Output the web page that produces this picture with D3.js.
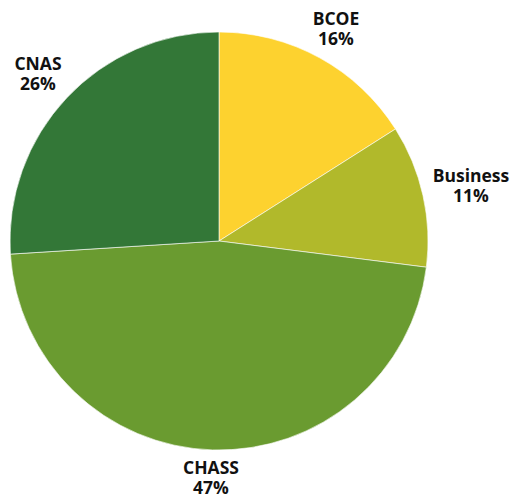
<!DOCTYPE html>
<html><head><meta charset="utf-8">
<script src="https://cdn.jsdelivr.net/npm/d3@7"></script>
<style>html,body{margin:0;padding:0;background:#fff;}</style>
</head><body>
<svg id="c" width="512" height="496"></svg>
<script>
const categories = ["BCOE", "Business", "CHASS", "CNAS"];
const values = [16, 11, 47, 26];
const colors = ["#FDD22F", "#B1B92B", "#6A9B30", "#337737"];

const W = 512, H = 496, cx = 219, cy = 241, R = 209;
const svg = d3.select("#c");
const g = svg.append("g").attr("transform", `translate(${cx},${cy})`);
const pie = d3.pie().sort(null).value(d => d)(values);
const arc = d3.arc().innerRadius(0).outerRadius(R);
g.selectAll("path").data(pie).join("path")
  .attr("d", arc)
  .attr("fill", (d, i) => colors[i])
  .attr("stroke", "#fff").attr("stroke-width", 0.6);

const anchors = [[336, 25], [471, 182], [211, 474], [38, 70]];
pie.forEach((d, i) => {
  const [x, y] = anchors[i];
  const t = svg.append("text")
    .attr("x", x).attr("y", y)
    .attr("text-anchor", "middle")
    .attr("font-family", "'Open Sans', 'Noto Sans', sans-serif")
    .attr("font-weight", "bold")
    .attr("font-size", 17.5)
    .attr("fill", "#111");
  t.append("tspan").attr("x", x).text(categories[i]);
  t.append("tspan").attr("x", x).attr("dy", 20).text(values[i] + "%");
});
</script>
</body></html>
